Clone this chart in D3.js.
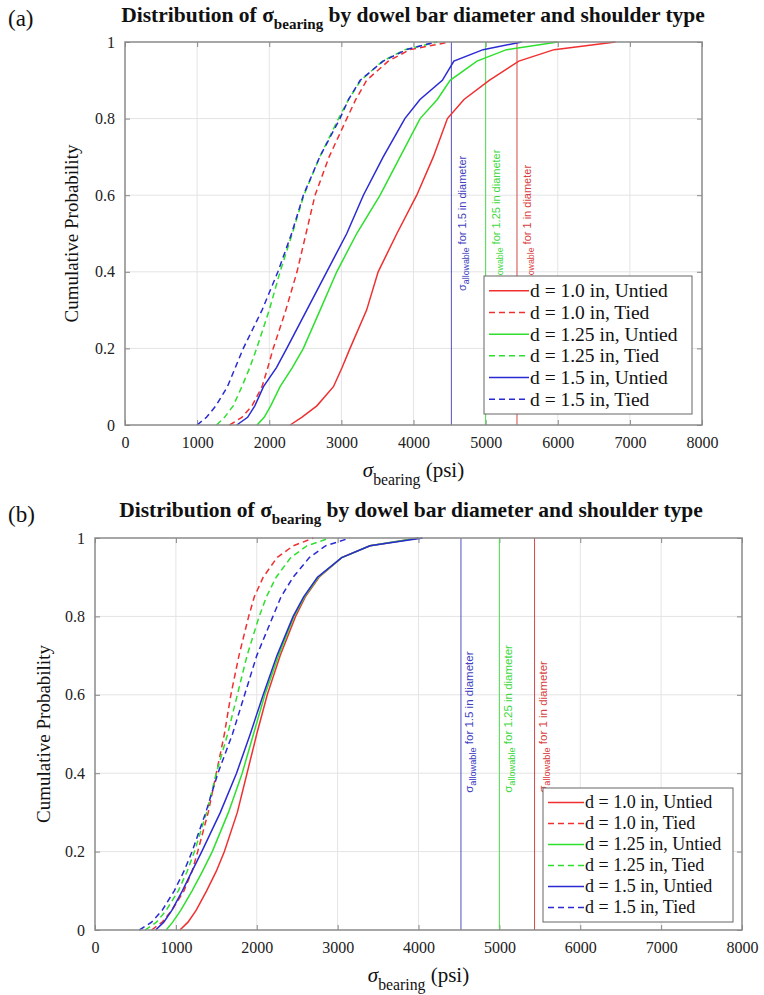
<!DOCTYPE html>
<html>
<head>
<meta charset="utf-8">
<script src="https://cdn.jsdelivr.net/npm/d3@7"></script>
<style>
  html, body { margin: 0; padding: 0; background: #fff; }
  svg { display: block; }
</style>
</head>
<body>
<svg id="chart" width="764" height="995"></svg>
<script>
// ---------------- DATA ----------------
// Cumulative probability levels at which the quantiles (psi) were read
const probLevels = [0, 0.02, 0.05, 0.1, 0.15, 0.2, 0.3, 0.4, 0.5, 0.6, 0.7, 0.8, 0.85, 0.9, 0.95, 0.98, 1.0];

const seriesNames = ["d = 1.0 in, Untied", "d = 1.0 in, Tied", "d = 1.25 in, Untied",
                     "d = 1.25 in, Tied", "d = 1.5 in, Untied", "d = 1.5 in, Tied"];
const seriesColors = ["#f03030", "#f03030", "#2ee02e", "#2ee02e", "#2a2ad4", "#2a2ad4"];
const seriesDashed = [false, true, false, true, false, true];

// Panel (a) quantiles (psi) at probLevels
const a_d10_untied = [2290, 2450, 2660, 2890, 3010, 3120, 3350, 3510, 3770, 4045, 4275, 4470, 4700, 5050, 5460, 5950, 6800];
const a_d10_tied   = [1450, 1620, 1760, 1900, 1980, 2055, 2230, 2385, 2510, 2635, 2830, 3075, 3200, 3350, 3650, 3950, 4500];
const a_d125_untied= [1830, 1930, 2020, 2150, 2320, 2473, 2705, 2936, 3213, 3537, 3814, 4091, 4330, 4508, 4880, 5290, 6000];
const a_d125_tied  = [1270, 1380, 1500, 1620, 1730, 1826, 2000, 2150, 2320, 2480, 2700, 2960, 3100, 3270, 3570, 3880, 4330];
const a_d15_untied = [1550, 1700, 1800, 1920, 2100, 2243, 2520, 2797, 3075, 3305, 3580, 3880, 4090, 4400, 4560, 4965, 5500];
const a_d15_tied   = [1000, 1130, 1260, 1420, 1530, 1640, 1900, 2120, 2310, 2473, 2700, 2980, 3100, 3260, 3580, 3900, 4300];

// Panel (b) quantiles (psi) at probLevels
const b_d10_untied = [1050, 1150, 1250, 1380, 1500, 1600, 1760, 1880, 2000, 2130, 2290, 2480, 2600, 2770, 3050, 3400, 4000];
const b_d10_tied   = [700, 830, 950, 1100, 1200, 1270, 1400, 1500, 1600, 1680, 1780, 1900, 1970, 2080, 2250, 2450, 2700];
const b_d125_untied= [880, 960, 1060, 1200, 1330, 1450, 1650, 1820, 1960, 2100, 2270, 2460, 2590, 2760, 3050, 3400, 4000];
const b_d125_tied  = [620, 760, 880, 1030, 1140, 1230, 1380, 1500, 1640, 1760, 1880, 2030, 2120, 2240, 2420, 2620, 2900];
const b_d15_untied = [750, 850, 950, 1080, 1200, 1320, 1550, 1750, 1920, 2080, 2250, 2450, 2580, 2750, 3050, 3400, 4050];
const b_d15_tied   = [550, 700, 830, 980, 1100, 1200, 1370, 1520, 1700, 1850, 2000, 2200, 2300, 2450, 2650, 2850, 3150];

// Allowable bearing stress lines (psi)
const allowableValues = [4525, 5000, 5435];
const allowableLabels = ["for 1.5 in diameter", "for 1.25 in diameter", "for 1 in diameter"];
const allowableColors = ["#5050c0", "#50dd50", "#d04848"];
const allowableTextColors = ["#4040c0", "#40d840", "#d84040"];

const xTicks = [0, 1000, 2000, 3000, 4000, 5000, 6000, 7000, 8000];
const yTicks = [0, 0.2, 0.4, 0.6, 0.8, 1];
const yTickLabels = ["0", "0.2", "0.4", "0.6", "0.8", "1"];

// ---------------- DRAWING ----------------
const svg = d3.select("#chart");
const serif = "'Liberation Serif', 'Times New Roman', serif";
const sans = "'Liberation Sans', Arial, sans-serif";

function drawPanel(cfg) {
  const { left, right, top, bottom, series, tag, tagY, titleX, titleY, ylabelX,
          legend, labelOffset, fs } = cfg;
  const x = d3.scaleLinear().domain([0, 8000]).range([left, right]);
  const y = d3.scaleLinear().domain([0, 1]).range([bottom, top]);
  const g = svg.append("g");

  // grid
  g.append("g").selectAll("line").data(xTicks.slice(1, -1)).join("line")
    .attr("x1", d => x(d)).attr("x2", d => x(d)).attr("y1", top).attr("y2", bottom)
    .attr("stroke", "#e4e4e4").attr("stroke-width", 1);
  g.append("g").selectAll("line").data(yTicks.slice(1, -1)).join("line")
    .attr("y1", d => y(d)).attr("y2", d => y(d)).attr("x1", left).attr("x2", right)
    .attr("stroke", "#e4e4e4").attr("stroke-width", 1);

  // axes (ticks inside, MATLAB style)
  const axB = g.append("g").attr("transform", `translate(0,${bottom})`)
    .call(d3.axisBottom(x).tickValues(xTicks).tickSizeInner(-5).tickSizeOuter(0).tickPadding(12)
      .tickFormat(d3.format("d")));
  const axT = g.append("g").attr("transform", `translate(0,${top})`)
    .call(d3.axisTop(x).tickValues(xTicks).tickSizeInner(-5).tickSizeOuter(0).tickFormat(""));
  const axL = g.append("g").attr("transform", `translate(${left},0)`)
    .call(d3.axisLeft(y).tickValues(yTicks).tickSizeInner(-5).tickSizeOuter(0).tickPadding(10)
      .tickFormat((d, i) => yTickLabels[i]));
  const axR = g.append("g").attr("transform", `translate(${right},0)`)
    .call(d3.axisRight(y).tickValues(yTicks).tickSizeInner(-5).tickSizeOuter(0).tickFormat(""));
  [axB, axT, axL, axR].forEach(a => {
    a.select(".domain").remove();
    a.selectAll(".tick line").attr("stroke", "#888");
    a.selectAll("text").attr("font-family", serif).attr("font-size", fs.tick).attr("fill", "#222");
  });

  // allowable vertical lines + labels
  allowableValues.forEach((v, i) => {
    g.append("line").attr("x1", x(v)).attr("x2", x(v)).attr("y1", top).attr("y2", bottom)
      .attr("stroke", allowableColors[i]).attr("stroke-width", 1);
    const tx = x(v + labelOffset), ty = y(0.35);
    const t = g.append("text").attr("transform", `translate(${tx},${ty}) rotate(-90)`)
      .attr("font-family", sans).attr("font-size", fs.vlab).attr("fill", allowableTextColors[i]);
    t.append("tspan").text("σ");
    t.append("tspan").attr("dy", 3).attr("font-size", fs.vlab * 0.8).text("allowable");
    t.append("tspan").attr("dy", -3).text(" " + allowableLabels[i]);
  });

  // curves
  const line = d3.line().x(d => x(d[0])).y(d => y(d[1]));
  series.forEach((vals, i) => {
    const pts = vals.map((v, j) => [v, probLevels[j]]);
    g.append("path").datum(pts).attr("d", line).attr("fill", "none")
      .attr("stroke", seriesColors[i]).attr("stroke-width", 1.5)
      .attr("stroke-dasharray", seriesDashed[i] ? "6,4" : null);
  });

  // box
  g.append("rect").attr("x", left).attr("y", top).attr("width", right - left).attr("height", bottom - top)
    .attr("fill", "none").attr("stroke", "#8a8a8a").attr("stroke-width", 1.5);

  // legend
  const lg = g.append("g");
  lg.append("rect").attr("x", legend.x).attr("y", legend.y).attr("width", legend.w).attr("height", legend.h)
    .attr("fill", "#fff").attr("stroke", "#666").attr("stroke-width", 1);
  const step = (legend.h - 8) / seriesNames.length;
  seriesNames.forEach((nm, i) => {
    const cy = legend.y + 4 + step * (i + 0.5);
    lg.append("line").attr("x1", legend.x + 5).attr("x2", legend.x + 5 + legend.lineLen)
      .attr("y1", cy).attr("y2", cy).attr("stroke", seriesColors[i]).attr("stroke-width", 1.5)
      .attr("stroke-dasharray", seriesDashed[i] ? "6,4" : null);
    lg.append("text").attr("x", legend.x + 6 + legend.lineLen).attr("y", cy + fs.legend * 0.33)
      .attr("font-family", serif).attr("font-size", fs.legend).attr("fill", "#111").text(nm);
  });

  // title
  const tt = svg.append("text").attr("x", titleX).attr("y", titleY).attr("text-anchor", "middle")
    .attr("font-family", serif).attr("font-weight", "bold").attr("font-size", fs.title).attr("fill", "#111");
  tt.append("tspan").text("Distribution of σ");
  tt.append("tspan").attr("dy", 7).attr("font-size", fs.title * 0.7).text("bearing");
  tt.append("tspan").attr("dy", -7).text(" by dowel bar diameter and shoulder type");

  // panel tag
  svg.append("text").attr("x", 8).attr("y", tagY).attr("font-family", serif).attr("font-size", fs.tag)
    .attr("fill", "#111").text(tag);

  // x label
  const cx = (left + right) / 2;
  const xl = svg.append("text").attr("x", cx).attr("y", bottom + 52).attr("text-anchor", "middle")
    .attr("font-family", serif).attr("font-size", fs.label).attr("fill", "#111");
  xl.append("tspan").attr("font-style", "italic").text("σ");
  xl.append("tspan").attr("dy", 8).attr("font-size", fs.label * 0.75).text("bearing");
  xl.append("tspan").attr("dy", -8).text(" (psi)");

  // y label
  svg.append("text").attr("transform", `translate(${ylabelX},${(top + bottom) / 2}) rotate(-90)`)
    .attr("text-anchor", "middle").attr("font-family", serif).attr("font-size", fs.ylabel)
    .attr("fill", "#111").text("Cumulative Probability");
}

drawPanel({
  left: 125, right: 702, top: 42, bottom: 425,
  series: [a_d10_untied, a_d10_tied, a_d125_untied, a_d125_tied, a_d15_untied, a_d15_tied],
  tag: "(a)", tagY: 26, titleX: 413, titleY: 22, ylabelX: 78,
  legend: { x: 484, y: 276, w: 208, h: 138, lineLen: 40 },
  labelOffset: 200,
  fs: { tick: 16, vlab: 11, legend: 19.5, title: 21.5, tag: 23, label: 21, ylabel: 19 }
});

drawPanel({
  left: 95, right: 742, top: 538, bottom: 930,
  series: [b_d10_untied, b_d10_tied, b_d125_untied, b_d125_tied, b_d15_untied, b_d15_tied],
  tag: "(b)", tagY: 522, titleX: 411, titleY: 517, ylabelX: 50,
  legend: { x: 543, y: 788, w: 190, h: 134, lineLen: 36 },
  labelOffset: 150,
  fs: { tick: 16, vlab: 11.5, legend: 18, title: 21.5, tag: 23, label: 21, ylabel: 19 }
});
</script>
</body>
</html>
